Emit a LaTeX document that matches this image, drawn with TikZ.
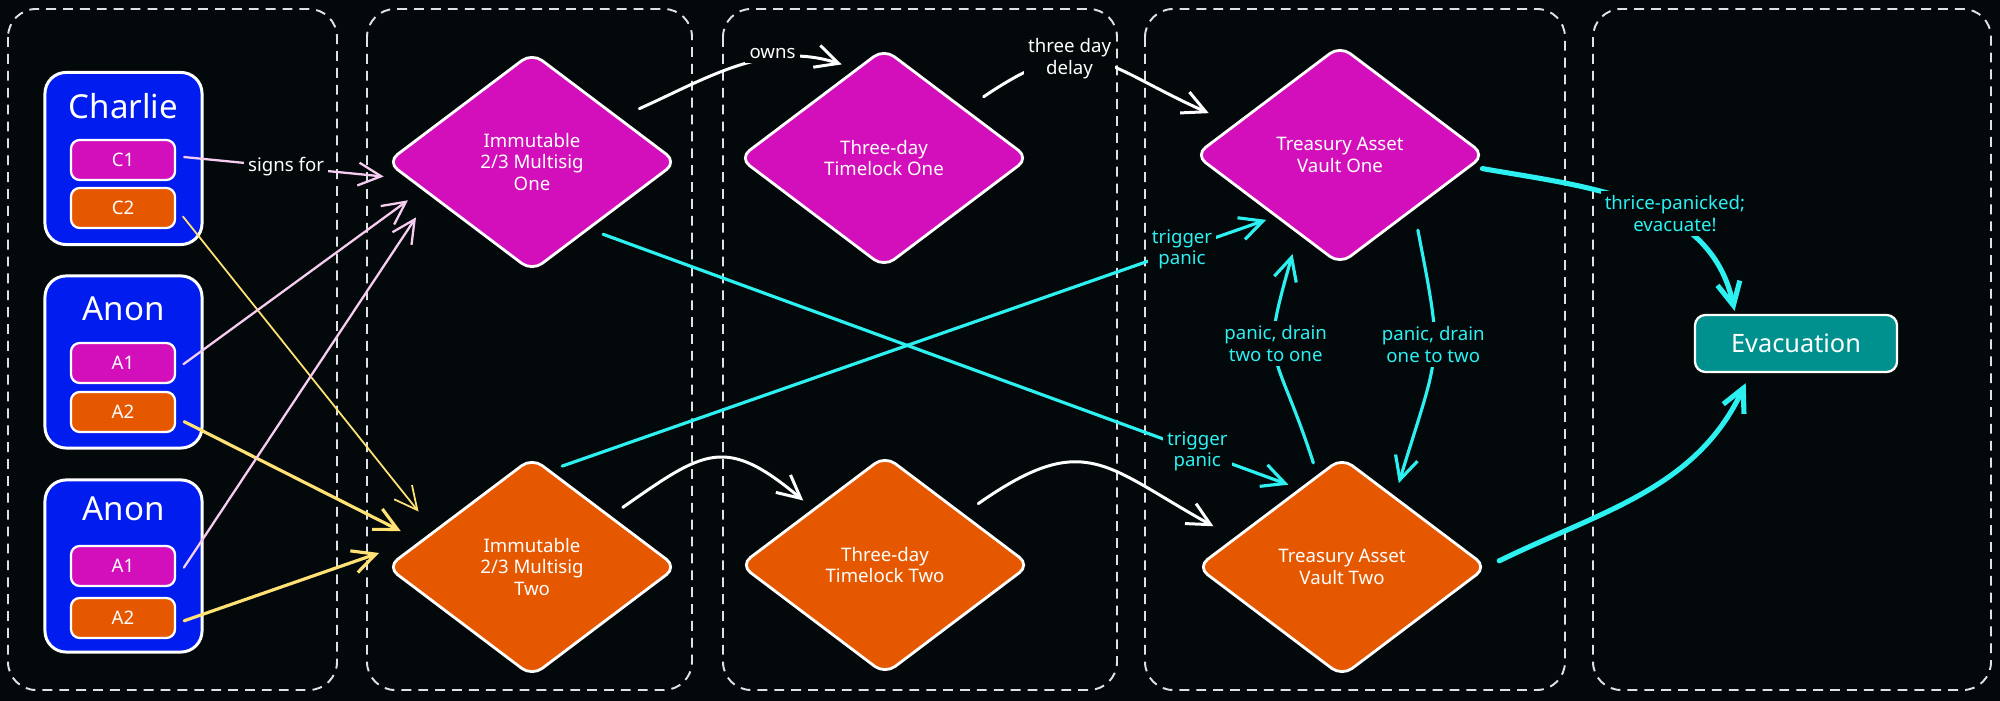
\documentclass[tikz,border=0pt]{standalone}
\usepackage{fontspec}
\setmainfont{Noto Sans}
\usepackage{xcolor}
\usepackage{tikz}
\usetikzlibrary{arrows.meta, positioning, shapes.geometric}
\definecolor{exc_bg}{RGB}{3, 8, 11}
\definecolor{exc_blue}{RGB}{0, 28, 238}
\definecolor{exc_magenta}{RGB}{211, 15, 187}
\definecolor{exc_orange}{RGB}{230, 88, 0}
\definecolor{exc_teal}{RGB}{0, 145, 143}
\definecolor{exc_cyan}{RGB}{45, 240, 240}
\definecolor{exc_pink}{RGB}{246, 204, 240}
\definecolor{exc_yellow}{RGB}{255, 226, 115}
\definecolor{exc_lane}{RGB}{222, 226, 228}

\begin{document}
\begin{tikzpicture}[x=0.01cm, y=-0.01cm,
  font=\fontsize{5.3}{6.2}\selectfont,
  lane/.style={draw=exc_lane, line width=0.55pt, dash pattern=on 2.8pt off 2pt,
               rounded corners=8pt},
  who/.style={draw=white, line width=0.85pt, fill=exc_blue, rounded corners=6pt,
              minimum width=1.57cm, minimum height=1.72cm},
  whoname/.style={text=white, font=\fontsize{9.4}{11}\selectfont, inner sep=0pt},
  signer/.style={draw=white, line width=0.65pt, rounded corners=2.5pt, text=white,
                 minimum width=1.04cm, minimum height=0.40cm, inner sep=0pt},
  dia/.style={diamond, draw=white, line width=0.8pt, rounded corners=3.6pt, text=white,
              align=center, inner sep=0pt, outer sep=0pt,
              minimum width=2.89cm, minimum height=2.18cm},
  goal/.style={draw=white, line width=0.65pt, rounded corners=3pt, fill=exc_teal,
               text=white, font=\fontsize{7.2}{8.6}\selectfont,
               minimum width=2.02cm, minimum height=0.57cm},
  arr/.style={-{Straight Barb[length=6.5pt, width=6.5pt]}, line cap=round},
  lbl/.style={fill=exc_bg, inner sep=1.2pt, align=center, text=white},
  panic/.style={arr, exc_cyan, line width=0.9pt},
  plbl/.style={lbl, text=exc_cyan}]
  \fill[exc_bg] (0,0) rectangle (2000,701);
  \draw[lane] (8,9) rectangle (337,690);
  \draw[lane] (367,9) rectangle (692,690);
  \draw[lane] (723,9) rectangle (1117,690);
  \draw[lane] (1145,9) rectangle (1565,690);
  \draw[lane] (1593,9) rectangle (1991,690);

  \node[who] (charlie) at (123.5,158.5) {};
  \node[whoname] (charlie_name) at (123.5,106) {Charlie};
  \node[signer, fill=exc_magenta] (c_one) at (123,160) {C1};
  \node[signer, fill=exc_orange] (c_two) at (123,208) {C2};
  \node[who] (anon) at (123.5,362) {};
  \node[whoname] (anon_name) at (123.5,309) {Anon};
  \node[signer, fill=exc_magenta] (a_one) at (123,363) {A1};
  \node[signer, fill=exc_orange] (a_two) at (123,412) {A2};
  \node[who] (anon_b) at (123.5,566) {};
  \node[whoname] (anon_b_name) at (123.5,509) {Anon};
  \node[signer, fill=exc_magenta] (b_one) at (123,566) {A1};
  \node[signer, fill=exc_orange] (b_two) at (123,618) {A2};

  \node[dia, fill=exc_magenta] (ms_one) at (532,162) {Immutable\\2/3 Multisig\\One};
  \node[dia, fill=exc_orange] (ms_two) at (532,567) {Immutable\\2/3 Multisig\\Two};
  \node[dia, fill=exc_magenta] (tl_one) at (884,158) {Three-day\\Timelock One};
  \node[dia, fill=exc_orange] (tl_two) at (885,565) {Three-day\\Timelock Two};
  \node[dia, fill=exc_magenta] (vault_one) at (1340,155) {Treasury Asset\\Vault One};
  \node[dia, fill=exc_orange] (vault_two) at (1342,567) {Treasury Asset\\Vault Two};
  \node[goal] (evac) at (1796,343.5) {Evacuation};

  \draw[arr, exc_pink, line width=0.65pt, shorten <=0.08cm, shorten >=0.265cm]
    (c_one.4) -- node[lbl, pos=0.47] {signs for} (ms_one.188);
  \draw[arr, exc_yellow, line width=0.5pt, shorten <=0.11cm, shorten >=0.255cm]
    (c_two.east) -- (ms_two.160);
  \draw[arr, exc_pink, line width=0.65pt, shorten <=0.09cm, shorten >=0.19cm]
    (a_one.-7) -- (ms_one.194);
  \draw[arr, exc_yellow, line width=0.9pt, shorten <=0.09cm, shorten >=0.23cm]
    (a_two.-6) -- (ms_two.167);
  \draw[arr, exc_pink, line width=0.65pt, shorten <=0.14cm, shorten >=0.27cm]
    (b_one.-14) -- (ms_one.198);
  \draw[arr, exc_yellow, line width=0.9pt, shorten <=0.085cm, shorten >=0.53cm]
    (b_two.-6) -- (ms_two.163);

  \draw[arr, white, line width=0.85pt, shorten <=0.23cm, shorten >=0.16cm]
    (ms_one.27) to[out=24, in=162]
    node[lbl, pos=0.66, yshift=2pt] {owns} (tl_one.107);
  \draw[arr, white, line width=0.85pt, shorten <=0.23cm, shorten >=0.29cm]
    (tl_one.31) to[out=34, in=156, looseness=1.4]
    node[lbl, pos=0.38, yshift=1pt] {three day\\delay} (vault_one.164);
  \draw[arr, white, line width=0.85pt, shorten <=0.16cm, shorten >=0.14cm]
    (ms_two.33) to[out=35, in=140, looseness=1.45] (tl_two.142);
  \draw[arr, white, line width=0.85pt, shorten <=0.19cm, shorten >=0.25cm]
    (tl_two.33) to[out=35, in=151, looseness=1.4] (vault_two.165);

  \draw[panic, shorten <=0.16cm, shorten >=0.13cm]
    (ms_one.-50) -- node[plbl, pos=0.855] {trigger\\panic} (vault_two.118);
  \draw[panic, shorten <=0.14cm, shorten >=0.11cm]
    (ms_two.80) -- node[plbl, pos=0.87] {trigger\\panic} (vault_one.224);
  \draw[panic, shorten <=0.14cm, shorten >=0.22cm]
    (vault_two.105) to[out=108, in=-106, looseness=1.5]
    node[plbl, pos=0.57] {panic, drain\\two to one} (vault_one.242);
  \draw[panic, shorten <=0.22cm, shorten >=0.15cm]
    (vault_one.-36) to[out=-79, in=73, looseness=1.4]
    node[plbl, pos=0.45] {panic, drain\\one to two} (vault_two.53);
  \draw[panic, line width=1.45pt, shorten <=0.13cm, shorten >=0.03cm]
    (vault_one.-5) to[out=-10, in=102]
    node[plbl, pos=0.64, yshift=3pt] {thrice-panicked;\\evacuate!} (evac.154);
  \draw[panic, line width=1.45pt, shorten <=0.14cm, shorten >=0.11cm]
    (vault_two.east) to[out=26, in=-115] (evac.213);
\end{tikzpicture}
\end{document}
